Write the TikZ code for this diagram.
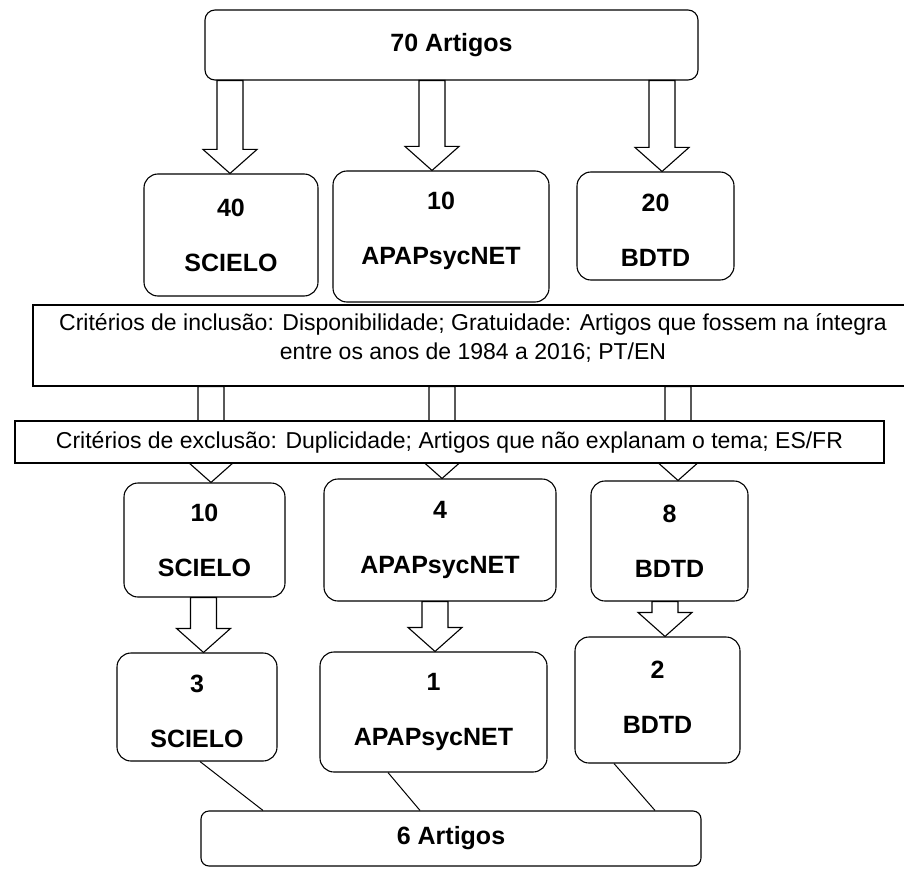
\documentclass[tikz,border=0pt]{standalone}
\usepackage{fontspec}
\setmainfont{Liberation Sans}
\usetikzlibrary{calc}

\begin{document}
\begin{tikzpicture}[
      x=1pt, y=-1pt,
      mybox/.style={
         draw=black,
         fill=white,
         line width=1.1pt,
         rounded corners=14pt,
         inner sep=0pt,
         align=center,
         font=\bfseries\fontsize{25}{29}\selectfont},
      mycrit/.style={
         draw=black,
         fill=white,
         line width=1.1pt,
         inner sep=0pt,
         align=center,
         font=\fontsize{23}{29}\selectfont},
      myblock/.style={draw=black, fill=white, line width=1.1pt},
      myline/.style={draw=black, line width=1pt}
      ]
      \useasboundingbox (0,0) rectangle (904,869);

      \node[mybox,rounded corners=10pt,minimum width=493pt,minimum height=70pt] (top) at (451.5,45) {70 Artigos};

      % bases
      \node[mybox,minimum width=174pt,minimum height=122pt] (s1) at (231,235) {40\\[26pt]SCIELO};
      \node[mybox,minimum width=216pt,minimum height=131pt,text depth=17pt] (a1) at (441,236.5) {10\\[26pt]APAPsycNET};
      \node[mybox,minimum width=157pt,minimum height=108pt,text height=80pt] (b1) at (655.5,226) {20\\[26pt]BDTD};

      \node[mycrit,minimum width=880pt,minimum height=81pt,text depth=17pt] (inc) at (473,345.5)
         {Critérios de inclusão: Disponibilidade; Gratuidade: Artigos que fossem na íntegra\\entre os anos de 1984 a 2016; PT/EN};

      \node[mybox,minimum width=161pt,minimum height=114pt] (s2) at (204.5,540) {10\\[26pt]SCIELO};
      \node[mybox,minimum width=232pt,minimum height=122pt] (a2) at (440,540) {4\\[26pt]APAPsycNET};
      \node[mybox,minimum width=157pt,minimum height=120pt] (b2) at (669.5,541) {8\\[26pt]BDTD};

      \node[mybox,minimum width=160pt,minimum height=108pt,text height=81pt] (s3) at (197,707) {3\\[26pt]SCIELO};
      \node[mybox,minimum width=227pt,minimum height=120pt] (a3) at (433.5,712) {1\\[26pt]APAPsycNET};
      \node[mybox,minimum width=165pt,minimum height=126pt,text depth=5pt] (b3) at (657.5,700) {2\\[26pt]BDTD};

      \node[mybox,rounded corners=8pt,minimum width=500pt,minimum height=55pt] (fim) at (451,838.5) {6 Artigos};

    \foreach \i/\j/\dx in {% start node/end node/shift of the tip
      top/s1/-1,
      top/a1/-9,
      top/b1/6.5,
      inc/s2/6.5,
      inc/a2/2,
      inc/b2/8.5,
      s2/s3/6.5,
      a2/a3/1.5,
      b2/b3/7.5}
       \draw[myblock] let \p1=(\i.south), \p2=([xshift=\dx pt]\j.north) in
          (\x2-13pt,\y1) -- (\x2-13pt,\y2+24pt) -- (\x2-27pt,\y2+24pt) -- (\x2,\y2)
          -- (\x2+27pt,\y2+24pt) -- (\x2+13pt,\y2+24pt) -- (\x2+13pt,\y1) -- cycle;

      \node[mycrit,minimum width=869pt,minimum height=42pt] (exc) at (449.5,442)
         {Critérios de exclusão: Duplicidade; Artigos que não explanam o tema; ES/FR};

    \foreach \i/\dx/\ex in {s3/3/-188, a3/-45.5/-31, b3/-43.5/204}
       \draw[myline] ([xshift=\dx pt]\i.south) -- ([xshift=\ex pt]fim.north);

\end{tikzpicture}
\end{document}
